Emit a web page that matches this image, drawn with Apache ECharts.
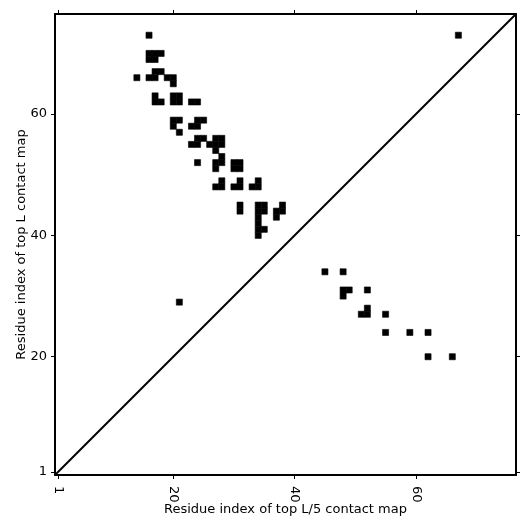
<!DOCTYPE html>
<html>
<head>
<meta charset="utf-8">
<script src="https://cdn.jsdelivr.net/npm/echarts@6/dist/echarts.min.js"></script>
<style>
  html, body { margin: 0; padding: 0; background: #fff; }
  #chart { width: 531px; height: 531px; }
</style>
</head>
<body>
<div id="chart"></div>
<script>
// contact cells as [residue i (x), residue j (y)]
var contactsUpper = [
    [16, 73], [67, 73],
    [16, 70], [17, 70], [18, 70], [16, 69], [17, 69],
    [17, 67], [18, 67],
    [14, 66], [16, 66], [17, 66], [19, 66], [20, 66], [20, 65],
    [17, 63], [17, 62], [18, 62],
    [20, 63], [21, 63], [20, 62], [21, 62], [23, 62], [24, 62],
    [20, 59], [21, 59], [20, 58], [21, 57],
    [24, 59], [25, 59], [23, 58], [24, 58],
    [24, 56], [25, 56], [23, 55], [24, 55],
    [27, 56], [28, 56], [26, 55], [27, 55], [28, 55], [27, 54],
    [28, 53], [24, 52],
    [27, 52], [28, 52], [27, 51],
    [30, 52], [31, 52], [30, 51], [31, 51],
    [28, 49], [27, 48], [28, 48],
    [31, 49], [30, 48], [31, 48],
    [34, 49], [33, 48], [34, 48],
    [31, 45], [31, 44],
    [34, 45], [35, 45], [34, 44], [35, 44], [34, 43], [34, 42], [34, 41], [35, 41], [34, 40],
    [38, 45], [37, 44], [38, 44], [37, 43],
    [21, 29]
];
var contactsLower = [
    [45, 34], [48, 34],
    [48, 31], [49, 31], [48, 30], [52, 31],
    [52, 28], [51, 27], [52, 27], [55, 27],
    [55, 24], [59, 24], [62, 24],
    [62, 20], [66, 20]
];
var diagonal = [[0.5, 0.5], [76.5, 76.5]];
var axisRange = [0.5, 76.5];
var tickValues = [1, 20, 40, 60];

var chart = echarts.init(document.getElementById('chart'));

function cell(params, api) {
    var x = api.value(0), y = api.value(1);
    var p0 = api.coord([x - 0.5, y + 0.5]);
    var p1 = api.coord([x + 0.5, y - 0.5]);
    return {
        type: 'rect',
        shape: { x: p0[0], y: p0[1], width: p1[0] - p0[0], height: p1[1] - p0[1] },
        style: { fill: '#000', stroke: '#000', lineWidth: 0.6 }
    };
}

var font = 'DejaVu Sans';
var tickStyle = { show: true, inside: false, length: 4, lineStyle: { color: '#000', width: 1 }, customValues: tickValues };
var lineStyle = { show: true, lineStyle: { color: '#000', width: 2 } };

chart.setOption({
    animation: false,
    backgroundColor: '#fff',
    grid: { left: 55, right: 15, top: 14, bottom: 56 },
    xAxis: [{
        type: 'value', min: axisRange[0], max: axisRange[1],
        position: 'bottom',
        name: 'Residue index of top L/5 contact map',
        nameLocation: 'middle', nameGap: 28, nameMoveOverlap: false,
        nameTextStyle: { fontFamily: font, fontSize: 13, color: '#000' },
        axisLine: lineStyle, axisTick: tickStyle,
        splitLine: { show: false },
        axisLabel: { customValues: tickValues, rotate: -90, margin: 11, fontFamily: font, fontSize: 13, color: '#000' }
    }, {
        type: 'value', min: axisRange[0], max: axisRange[1],
        position: 'top',
        axisLine: lineStyle, axisTick: tickStyle,
        splitLine: { show: false }, axisLabel: { show: false }
    }],
    yAxis: [{
        type: 'value', min: axisRange[0], max: axisRange[1],
        position: 'left',
        name: 'Residue index of top L contact map',
        nameLocation: 'middle', nameGap: 27, nameMoveOverlap: false,
        nameTextStyle: { fontFamily: font, fontSize: 13, color: '#000' },
        axisLine: lineStyle, axisTick: tickStyle,
        splitLine: { show: false },
        axisLabel: { customValues: tickValues, margin: 8, fontFamily: font, fontSize: 13, color: '#000' }
    }, {
        type: 'value', min: axisRange[0], max: axisRange[1],
        position: 'right',
        axisLine: lineStyle, axisTick: tickStyle,
        splitLine: { show: false }, axisLabel: { show: false }
    }],
    series: [{
        type: 'custom', renderItem: cell, data: contactsUpper, silent: true
    }, {
        type: 'custom', renderItem: cell, data: contactsLower, silent: true
    }, {
        type: 'line', data: diagonal, symbol: 'none', silent: true,
        lineStyle: { color: '#000', width: 2 }
    }]
});
</script>
</body>
</html>
